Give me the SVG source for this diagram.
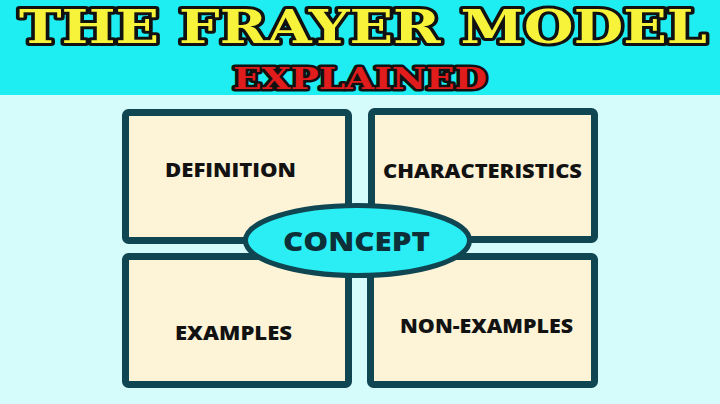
<svg xmlns="http://www.w3.org/2000/svg" width="720" height="404" viewBox="0 0 720 404">
<style>
.box{fill:#fdf3d6;stroke:#0f4652;stroke-width:7}
.lbl{font-family:"Open Sans","Liberation Sans",sans-serif;font-weight:800;font-size:19px;fill:#121212}
.cpt{font-family:"Open Sans","Liberation Sans",sans-serif;font-weight:800;font-size:26px;fill:#0d2f38}
.ttl{font-family:"DejaVu Serif","Liberation Serif",serif;font-weight:bold;stroke:#111;stroke-linejoin:round;paint-order:stroke}
</style>
<rect x="0" y="0" width="720" height="404" fill="#d6fbfb"/>
<rect x="0" y="0" width="720" height="95" fill="#1eeef2"/>
<g id="title">
<text class="ttl" x="19" y="43" font-size="46" textLength="688" lengthAdjust="spacingAndGlyphs" fill="#f7f23a" stroke-width="6">THE FRAYER MODEL</text>
<text class="ttl" x="233" y="89" font-size="29" textLength="254" lengthAdjust="spacingAndGlyphs" fill="#e01c1c" stroke-width="5">EXPLAINED</text>
</g>
<g id="definition">
<rect class="box" x="125.5" y="112.5" width="223" height="128" rx="3"/>
<text class="lbl" x="165" y="177" textLength="131" lengthAdjust="spacingAndGlyphs">DEFINITION</text>
</g>
<g id="characteristics">
<rect class="box" x="371.5" y="111.5" width="223" height="128" rx="3"/>
<text class="lbl" x="383" y="178" textLength="199" lengthAdjust="spacingAndGlyphs">CHARACTERISTICS</text>
</g>
<g id="examples">
<rect class="box" x="125.5" y="256.5" width="223" height="128" rx="3"/>
<text class="lbl" x="175" y="340" textLength="117" lengthAdjust="spacingAndGlyphs">EXAMPLES</text>
</g>
<g id="non-examples">
<rect class="box" x="370.5" y="256.5" width="224" height="128" rx="3"/>
<text class="lbl" x="400" y="333" textLength="173" lengthAdjust="spacingAndGlyphs">NON-EXAMPLES</text>
</g>
<g id="connectors"></g>
<g id="concept">
<ellipse cx="357.5" cy="240.5" rx="112" ry="35" fill="#2aeef3" stroke="#0f4652" stroke-width="5"/>
<text class="cpt" x="283" y="251" textLength="147" lengthAdjust="spacingAndGlyphs">CONCEPT</text>
</g>
</svg>
